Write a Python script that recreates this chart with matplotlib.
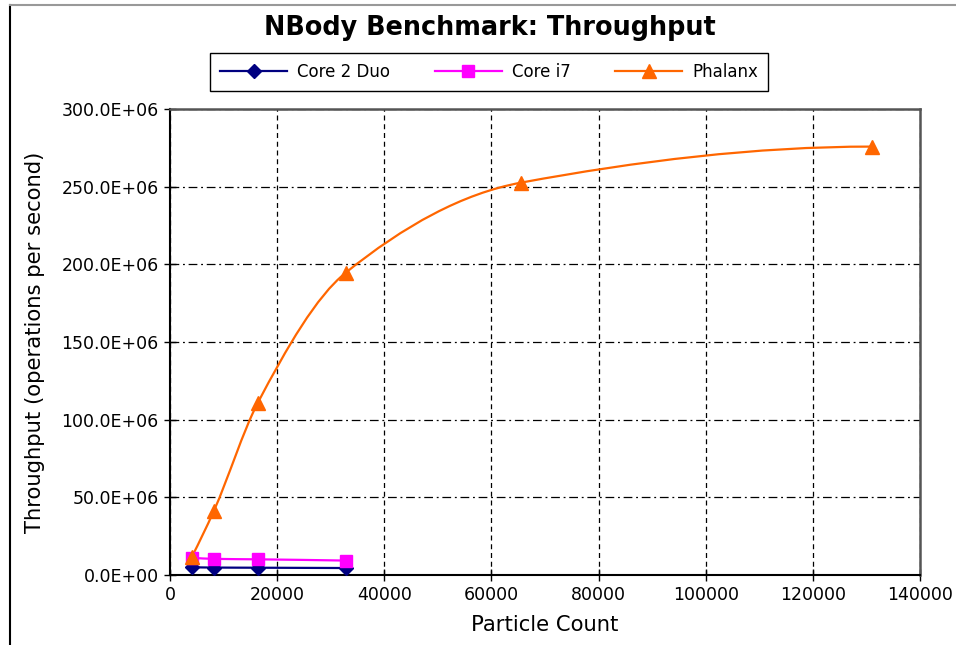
import matplotlib
matplotlib.use("Agg")
import matplotlib.pyplot as plt
import numpy as np
from matplotlib.path import Path
from matplotlib.patches import PathPatch
from matplotlib.lines import Line2D
from matplotlib.ticker import FuncFormatter, MultipleLocator

# data
particles = [4096, 8192, 16384, 32768, 65536, 131072]
core2duo = [5.0e6, 4.8e6, 4.7e6, 4.5e6]
corei7 = [11.1e6, 10.4e6, 10.1e6, 9.3e6]
phalanx = [11.8e6, 41.3e6, 110.8e6, 194.5e6, 252.6e6, 275.8e6]

series = [
    ("Core 2 Duo", core2duo, "#000080", "D", 7.5),
    ("Core i7", corei7, "#FF00FF", "s", 9),
    ("Phalanx", phalanx, "#FF6600", "^", 10),
]


def edge_slope(h0, h1, d0, d1):
    m = ((2 * h0 + h1) * d0 - h0 * d1) / (h0 + h1)
    if np.sign(m) != np.sign(d0):
        return 0.0
    if np.sign(d0) != np.sign(d1) and abs(m) > 3 * abs(d0):
        return 3 * d0
    return m


def smooth_path(xs, ys):
    # monotone cubic (pchip) segments, drawn as bezier curves
    x = np.asarray(xs, float)
    y = np.asarray(ys, float)
    n = len(x)
    h = np.diff(x)
    d = np.diff(y) / h
    m = np.zeros(n)
    if n == 2:
        m[:] = d[0]
    else:
        for i in range(1, n - 1):
            if d[i - 1] * d[i] > 0:
                w1 = 2 * h[i] + h[i - 1]
                w2 = h[i] + 2 * h[i - 1]
                m[i] = (w1 + w2) / (w1 / d[i - 1] + w2 / d[i])
        m[0] = edge_slope(h[0], h[1], d[0], d[1])
        m[-1] = edge_slope(h[-1], h[-2], d[-1], d[-2])
    verts = [(x[0], y[0])]
    codes = [Path.MOVETO]
    for i in range(n - 1):
        k = h[i] / 3
        verts += [(x[i] + k, y[i] + m[i] * k), (x[i + 1] - k, y[i + 1] - m[i + 1] * k), (x[i + 1], y[i + 1])]
        codes += [Path.CURVE4] * 3
    return Path(verts, codes)


def eng_fmt(v, pos):
    if v == 0:
        return "0.0E+00"
    exp = int(np.floor(np.log10(abs(v)) / 3) * 3)
    return "%.1fE+%02d" % (v / 10 ** exp, exp)


fig = plt.figure(figsize=(9.56, 6.45), dpi=100)
ax = fig.add_axes([0.1778, 0.1085, 0.7845, 0.7225])

handles = []
for name, vals, color, marker, ms in series:
    xs = particles[:len(vals)]
    ax.add_patch(PathPatch(smooth_path(xs, vals), fill=False, edgecolor=color, lw=1.6, zorder=3))
    ax.plot(xs, vals, linestyle="none", marker=marker, color=color, markersize=ms, zorder=4)
    handles.append(Line2D([], [], color=color, lw=1.6, marker=marker, markersize=ms))

ax.set_xlim(0, 140000)
ax.set_ylim(0, 300e6)
ax.xaxis.set_major_locator(MultipleLocator(20000))
ax.yaxis.set_major_locator(MultipleLocator(50e6))
ax.yaxis.set_major_formatter(FuncFormatter(eng_fmt))

ax.grid(axis="x", color="black", linestyle=(0, (4, 3)), lw=0.9)
ax.grid(axis="y", color="black", linestyle=(0, (7, 3, 1.5, 3)), lw=0.9)
ax.set_axisbelow(True)

for s in ["left", "bottom"]:
    ax.spines[s].set_color("black")
    ax.spines[s].set_linewidth(1.5)
for s in ["top", "right"]:
    ax.spines[s].set_color("#555555")
    ax.spines[s].set_linewidth(1.8)

ax.tick_params(direction="inout", length=8, width=1, labelsize=12.5, pad=4)

ax.set_xlabel("Particle Count", fontsize=15.2, labelpad=8)
ax.set_ylabel("Throughput (operations per second)", fontsize=15.2, labelpad=12)

fig.text(0.512, 0.957, "NBody Benchmark: Throughput", ha="center", va="center",
         fontsize=18.4, fontweight="bold")

leg = fig.legend(handles, [s[0] for s in series], loc="center", bbox_to_anchor=(0.5115, 0.889),
                 ncol=3, fontsize=12, handlelength=4.0, handletextpad=0.6, columnspacing=2.7,
                 fancybox=False, edgecolor="black", framealpha=1, borderpad=0.6)
leg.get_frame().set_linewidth(1.0)

# outer frame lines
fig.add_artist(Line2D([0.0105, 0.0105], [0.0, 0.993], color="black", lw=1.5, transform=fig.transFigure))
fig.add_artist(Line2D([0.0105, 1.0], [0.993, 0.993], color="#999999", lw=1.5, transform=fig.transFigure))

fig.savefig("out.png", dpi=100)
